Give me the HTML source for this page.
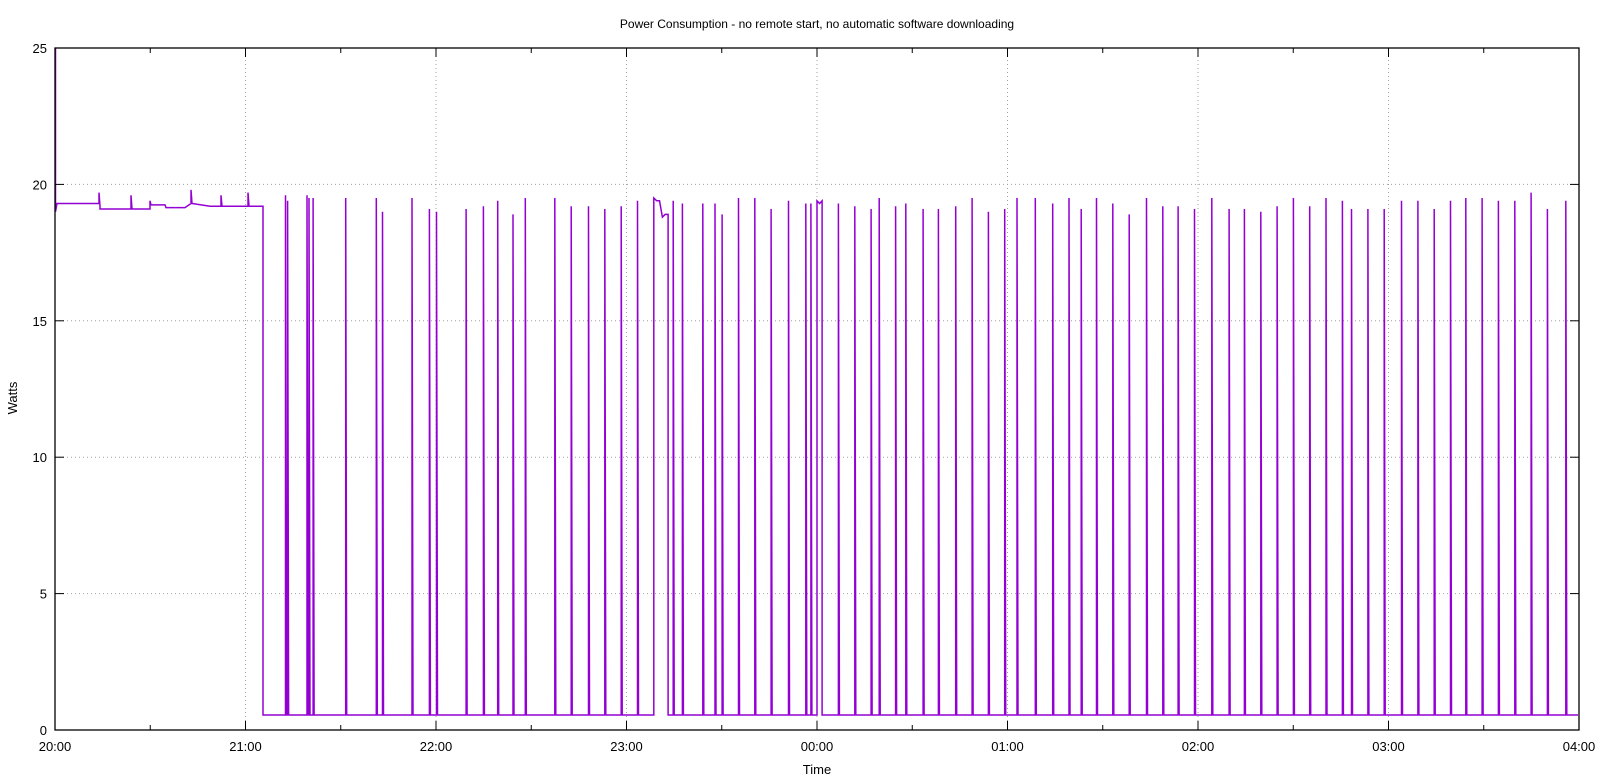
<!DOCTYPE html>
<html><head><meta charset="utf-8"><style>
html,body{margin:0;padding:0;background:#fff;}
svg{display:block;font-family:"Liberation Sans",sans-serif;}
</style></head><body>
<svg id="s" width="1600" height="781" xmlns="http://www.w3.org/2000/svg">
<rect width="1600" height="781" fill="#fff"/>
<g id="grid" stroke="#a0a0a0" stroke-width="1" stroke-dasharray="1,3"></g>
<path id="data" fill="none" stroke="#9400d3" stroke-width="1.5"/>
<rect x="55" y="48" width="1524" height="682" fill="none" stroke="#000" stroke-width="1.3"/>
<g id="ticks" stroke="#000" stroke-width="1"></g>
<g id="labels" font-size="13" fill="#000"></g>
<text x="817" y="28" font-size="12" text-anchor="middle">Power Consumption - no remote start, no automatic software downloading</text>
<text x="817" y="774" font-size="13" text-anchor="middle">Time</text>
<text transform="translate(17,398) rotate(-90)" font-size="13" text-anchor="middle">Watts</text>
</svg>
<script>
var NS="http://www.w3.org/2000/svg";
var X0=55,X1=1579,Y0=730,YT=48;
function xh(h){return X0+h*(X1-X0)/8;}
function yw(w){return Y0-w*(Y0-YT)/25;}
function el(p,tag,a,t){var e=document.createElementNS(NS,tag);for(var k in a)e.setAttribute(k,a[k]);if(t!==undefined)e.textContent=t;document.getElementById(p).appendChild(e);}
var lab=["20:00","21:00","22:00","23:00","00:00","01:00","02:00","03:00","04:00"];
for(var i=0;i<=8;i++){var x=xh(i);
 if(i>0&&i<8)el("grid","line",{x1:x,y1:YT,x2:x,y2:Y0});
 el("ticks","line",{x1:x,y1:Y0,x2:x,y2:Y0-9});el("ticks","line",{x1:x,y1:YT,x2:x,y2:YT+9});
 if(i<8){var xm=xh(i+0.5);el("ticks","line",{x1:xm,y1:Y0,x2:xm,y2:Y0-5});el("ticks","line",{x1:xm,y1:YT,x2:xm,y2:YT+5});}
 el("labels","text",{x:x,y:751,"text-anchor":"middle"},lab[i]);}
for(var w=0;w<=25;w+=5){var y=yw(w);
 if(w>0&&w<25)el("grid","line",{x1:X0,y1:y,x2:X1,y2:y});
 el("ticks","line",{x1:X0,y1:y,x2:X0+9,y2:y});el("ticks","line",{x1:X1,y1:y,x2:X1-9,y2:y});
 el("labels","text",{x:47,y:y+5,"text-anchor":"end"},""+w);}
function mx(m){return 55+(m-54)*1.0201;}
var base=yw(0.55);
var d="M55.5,"+yw(25)+" L55.5,"+yw(19)+" L57,"+yw(19.3);
var plat=[[57,19.3],[99,19.3],[99,19.7],[100,19.2],[100,19.1],[131,19.1],[131,19.6],[132,19.1],[150,19.1],[150,19.4],[151,19.25],[165,19.25],[166,19.15],[185,19.15],[191,19.3],[191,19.8],[192,19.3],[210,19.2],[221,19.2],[221,19.6],[222,19.2],[248,19.2],[248,19.7],[249,19.2],[263,19.2]];
plat.forEach(function(p){d+=" L"+p[0]+","+yw(p[1]);});
d+=" L263,"+base;
var sp=[[280,19.6],[282,19.4],[301,19.6],[303,19.5],[307,19.5],[339,19.5],[369,19.5],[375,19.0],[404,19.5],[421,19.1],[428,19.0],[457,19.1],[474,19.2],[488,19.4],[503,18.9],[515,19.5],[544,19.5],[560,19.2],[577,19.2],[593,19.1],[609,19.2],[625,19.4],[660,19.4],[669,19.3],[689,19.3],[701,19.3],[708,18.9],[724,19.5],[740,19.5],[756,19.1],[773,19.4],[790,19.3],[795,19.3],[822,19.3],[838,19.2],[854,19.1],[862,19.5],[878,19.2],[888,19.3],[905,19.1],[920,19.1],[937,19.2],[953,19.5],[969,19.0],[985,19.1],[997,19.5],[1015,19.5],[1032,19.3],[1048,19.5],[1060,19.1],[1075,19.5],[1091,19.3],[1107,18.9],[1124,19.5],[1140,19.2],[1155,19.2],[1171,19.1],[1188,19.5],[1205,19.1],[1220,19.1],[1236,19.0],[1252,19.2],[1268,19.5],[1284,19.2],[1300,19.5],[1316,19.4],[1325,19.1],[1341,19.1],[1357,19.1],[1374,19.4],[1390,19.4],[1406,19.1],[1422,19.4],[1437,19.5],[1453,19.5],[1469,19.4],[1485,19.4],[1501,19.7],[1517,19.1],[1535,19.4]];
var bumps=[[641,655,[[19.5],[19.4],[19.4],[18.8],[18.9],[18.9]]],[801,806,[[19.4],[19.3],[19.4]]]];
function bump(a,b,vals){var xa=mx(a),xb=mx(b);d+=" L"+xa.toFixed(1)+","+base;var n=vals.length;for(var k=0;k<n;k++){var xx=xa+(xb-xa)*k/(n-1);d+=" L"+xx.toFixed(1)+","+yw(vals[k][0]).toFixed(1);}d+=" L"+xb.toFixed(1)+","+base;}
var bi=0;
sp.forEach(function(s){
 while(bi<bumps.length&&bumps[bi][0]<s[0]){bump(bumps[bi][0],bumps[bi][1],bumps[bi][2]);bi++;}
 var x=mx(s[0]);d+=" L"+x.toFixed(1)+","+base+" L"+x.toFixed(1)+","+yw(s[1]).toFixed(1)+" L"+(x+1).toFixed(1)+","+base;});
d+=" L1578,"+base;
document.getElementById("data").setAttribute("d",d);
</script>
</body></html>
